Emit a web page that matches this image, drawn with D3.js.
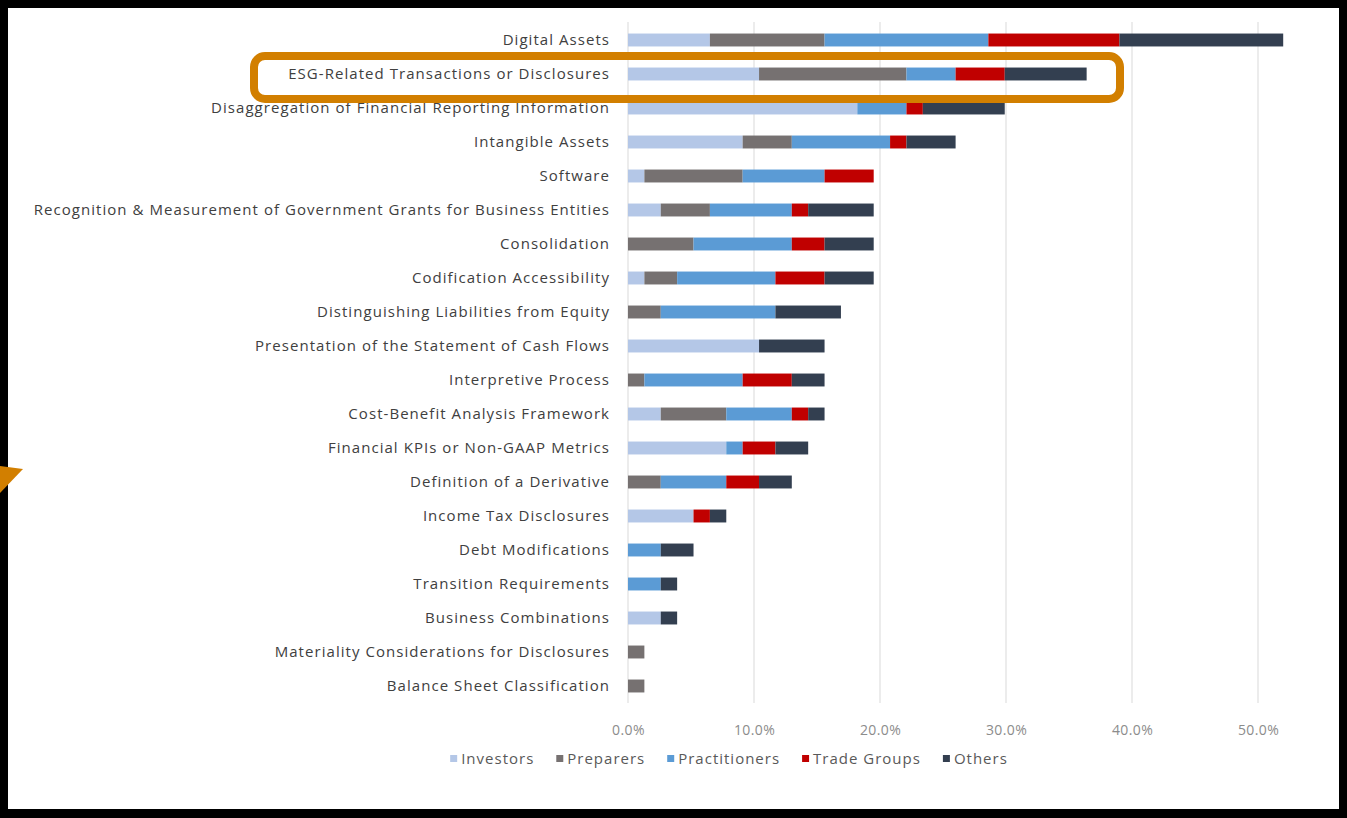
<!DOCTYPE html>
<html>
<head>
<meta charset="utf-8">
<script src="https://cdn.jsdelivr.net/npm/d3@7"></script>
<style>
  body { margin: 0; background: #fff; }
  svg { display: block; font-family: "Open Sans", sans-serif; }
</style>
</head>
<body>
<div id="chart"></div>
<script>
// categories, top to bottom
let categories = [
  "Digital Assets",
  "ESG-Related Transactions or Disclosures",
  "Disaggregation of Financial Reporting Information",
  "Intangible Assets",
  "Software",
  "Recognition & Measurement of Government Grants for Business Entities",
  "Consolidation",
  "Codification Accessibility",
  "Distinguishing Liabilities from Equity",
  "Presentation of the Statement of Cash Flows",
  "Interpretive Process",
  "Cost-Benefit Analysis Framework",
  "Financial KPIs or Non-GAAP Metrics",
  "Definition of a Derivative",
  "Income Tax Disclosures",
  "Debt Modifications",
  "Transition Requirements",
  "Business Combinations",
  "Materiality Considerations for Disclosures",
  "Balance Sheet Classification"
];

// share of respondents (%) per group
let investors     = [6.5, 10.4, 18.2, 9.1, 1.3, 2.6, 0,   1.3, 0,   10.4, 0,   2.6, 7.8, 0,   5.2, 0,   0,   2.6, 0,   0];
let preparers     = [9.1, 11.7, 0,    3.9, 7.8, 3.9, 5.2, 2.6, 2.6, 0,    1.3, 5.2, 0,   2.6, 0,   0,   0,   0,   1.3, 1.3];
let practitioners = [13.0, 3.9, 3.9,  7.8, 6.5, 6.5, 7.8, 7.8, 9.1, 0,    7.8, 5.2, 1.3, 5.2, 0,   2.6, 2.6, 0,   0,   0];
let tradeGroups   = [10.4, 3.9, 1.3,  1.3, 3.9, 1.3, 2.6, 3.9, 0,   0,    3.9, 1.3, 2.6, 2.6, 1.3, 0,   0,   0,   0,   0];
let others        = [13.0, 6.5, 6.5,  3.9, 0,   5.2, 3.9, 3.9, 5.2, 5.2,  2.6, 1.3, 2.6, 2.6, 1.3, 2.6, 1.3, 1.3, 0,   0];

let seriesNames = ["Investors", "Preparers", "Practitioners", "Trade Groups", "Others"];
let seriesValues = [investors, preparers, practitioners, tradeGroups, others];
let xTicks = [0, 10, 20, 30, 40, 50];

let colors = ["#b4c7e7", "#767171", "#5b9bd5", "#c00000", "#333f50"];

let width = 1347, height = 818;

let svg = d3.select("#chart").append("svg")
  .attr("width", width)
  .attr("height", height);

svg.append("rect")
  .attr("width", width).attr("height", height)
  .attr("fill", "#fff");

// scales
let x = d3.scaleLinear().domain([0, 50]).range([628, 1258]);
let y = d3.scaleBand().domain(categories).range([23, 703])
  .paddingInner(0.62).paddingOuter(0.31);

// gridlines
svg.append("g")
  .selectAll("line")
  .data(xTicks)
  .enter().append("line")
  .attr("x1", d => x(d)).attr("x2", d => x(d))
  .attr("y1", 22).attr("y2", 703)
  .attr("stroke", "#d9d9d9")
  .attr("stroke-width", 1);

// build stack rows
let rows = categories.map((c, i) => {
  let r = { cat: c };
  seriesNames.forEach((s, j) => r[s] = seriesValues[j][i]);
  return r;
});
let stacked = d3.stack().keys(seriesNames)(rows);

svg.append("g")
  .selectAll("g")
  .data(stacked)
  .enter().append("g")
  .attr("fill", (d, i) => colors[i])
  .selectAll("rect")
  .data(d => d)
  .enter().append("rect")
  .attr("x", d => x(d[0]))
  .attr("width", d => x(d[1]) - x(d[0]))
  .attr("y", d => y(d.data.cat))
  .attr("height", y.bandwidth());

// category labels
svg.append("g")
  .selectAll("text")
  .data(categories)
  .enter().append("text")
  .attr("x", 610)
  .attr("y", d => y(d) + y.bandwidth() / 2)
  .attr("dy", "0.35em")
  .attr("text-anchor", "end")
  .attr("fill", "#404040")
  .style("font-size", "15px")
  .style("letter-spacing", "1.05px")
  .text(d => d);

// x axis labels
let xAxis = d3.axisBottom(x)
  .tickValues(xTicks)
  .tickSize(0)
  .tickPadding(0)
  .tickFormat(d => d.toFixed(1) + "%");

let gx = svg.append("g")
  .attr("transform", "translate(0,725)")
  .call(xAxis);
gx.select(".domain").remove();
gx.selectAll("text")
  .attr("fill", "#8c8c8c")
  .style("font-size", "14px")
  .style("letter-spacing", "0.4px")
  .style("font-family", "Open Sans, sans-serif");

// legend
let legend = svg.append("g");
let lx = 0;
seriesNames.forEach((s, i) => {
  let item = legend.append("g").attr("transform", "translate(" + lx + ",0)");
  item.append("rect")
    .attr("x", 0).attr("y", -4)
    .attr("width", 7).attr("height", 7)
    .attr("fill", colors[i]);
  let t = item.append("text")
    .attr("x", 11).attr("y", 0)
    .attr("dy", "0.35em")
    .attr("fill", "#595959")
    .style("font-size", "15px")
    .style("letter-spacing", "1px")
    .text(s);
  lx += 11 + t.node().getComputedTextLength() + 22;
});
let legendW = lx - 22;
legend.attr("transform", "translate(" + (729 - legendW / 2) + ",759)");

// highlight box around ESG row
svg.append("rect")
  .attr("x", 254).attr("y", 56)
  .attr("width", 866).attr("height", 43)
  .attr("rx", 11)
  .attr("fill", "none")
  .attr("stroke", "#d27f00")
  .attr("stroke-width", 8);

// black frame
svg.append("path")
  .attr("fill-rule", "evenodd")
  .attr("fill", "#000")
  .attr("d", "M0,0H" + width + "V" + height + "H0Z M8,8V809H1339V8Z");

// arrow tip at left edge
svg.append("polygon")
  .attr("points", "0,466 23,469 0,493")
  .attr("fill", "#d27f00");
</script>
</body>
</html>
